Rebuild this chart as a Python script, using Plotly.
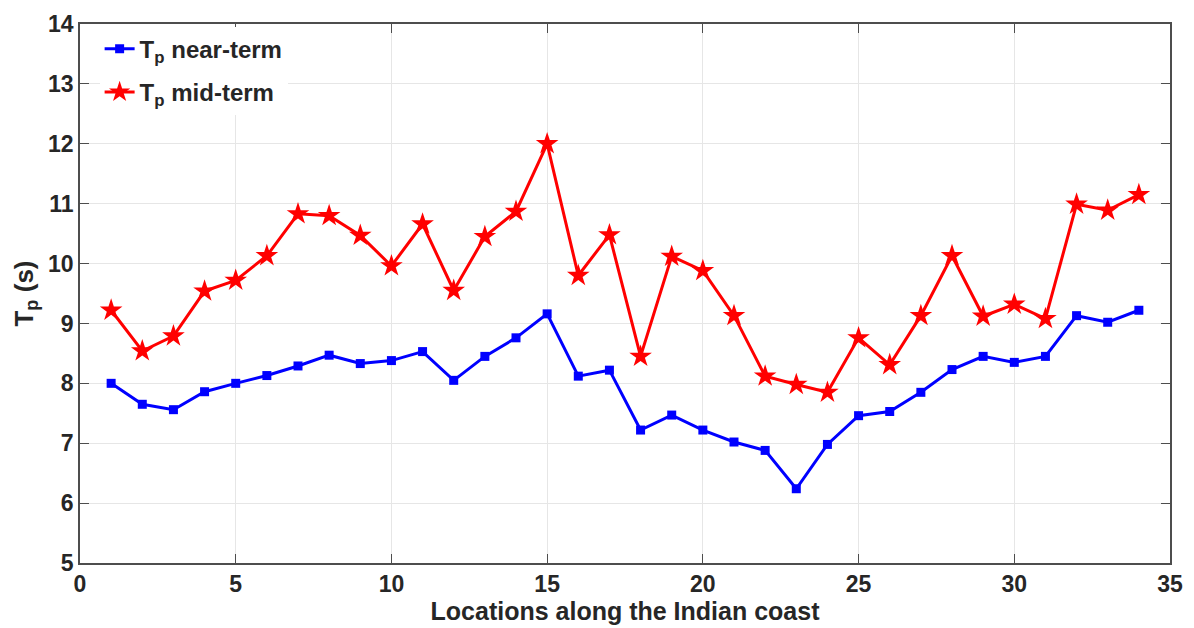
import plotly.graph_objects as go

locations = list(range(1, 35))
tp_near = [8.00, 7.65, 7.56, 7.86, 8.00, 8.13, 8.29, 8.47, 8.33, 8.38,
           8.53, 8.05, 8.45, 8.76, 9.16, 8.12, 8.22, 7.22, 7.47, 7.22,
           7.02, 6.88, 6.24, 6.98, 7.46, 7.53, 7.85, 8.23, 8.45, 8.35,
           8.45, 9.13, 9.02, 9.22]
tp_mid = [9.22, 8.54, 8.79, 9.54, 9.72, 10.13, 10.83, 10.80, 10.47, 9.96,
          10.66, 9.55, 10.45, 10.87, 12.00, 9.80, 10.48, 8.45, 10.12, 9.88,
          9.13, 8.12, 7.98, 7.85, 8.76, 8.31, 9.13, 10.13, 9.12, 9.32,
          9.08, 10.99, 10.89, 11.15]
x_ticks = [0, 5, 10, 15, 20, 25, 30, 35]
y_ticks = [5, 6, 7, 8, 9, 10, 11, 12, 13, 14]

font_family = "Liberation Sans, Arial, sans-serif"
axis_color = "#4d4d4d"
text_color = "#262626"

fig = go.Figure()
fig.add_trace(go.Scatter(
    x=locations, y=tp_near, mode="lines+markers",
    name="<b>T<sub>p</sub> near-term</b>", legendgroup="near",
    line=dict(color="#0000ff", width=3),
    marker=dict(symbol="square", size=9, color="#0000ff"),
))
fig.add_trace(go.Scatter(
    x=locations, y=tp_mid, mode="lines+markers",
    name="<b>T<sub>p</sub> mid-term</b>", legendgroup="mid",
    line=dict(color="#ff0000", width=3),
    marker=dict(symbol="star", size=17, color="#ff0000"),
))

axis_common = dict(
    showline=True, linecolor=axis_color, linewidth=1.5, mirror="ticks",
    ticks="inside", ticklen=9, tickwidth=1.2, tickcolor=axis_color,
    showgrid=True, gridcolor="#e6e6e6", gridwidth=1, zeroline=False,
    tickfont=dict(family=font_family, size=23, color=text_color, weight="bold"),
)

fig.update_layout(
    width=1194, height=628,
    margin=dict(l=80, r=11, t=17, b=65),
    paper_bgcolor="white", plot_bgcolor="white",
    font=dict(family=font_family, color=text_color),
    xaxis=dict(range=[0, 35], tickvals=x_ticks,
               title=dict(text="<b>Locations along the Indian coast</b>",
                          font=dict(family=font_family, size=25, color=text_color),
                          standoff=2),
               **axis_common),
    yaxis=dict(range=[5, 14], tickvals=y_ticks,
               title=dict(text="<b>T<sub>p</sub> (s)</b>",
                          font=dict(family=font_family, size=26, color=text_color),
                          standoff=7),
               **axis_common),
    legend=dict(x=0.018, y=0.995, xanchor="left", yanchor="top",
                bgcolor="white", borderwidth=0,
                font=dict(family=font_family, size=24, color=text_color),
                itemwidth=30, tracegroupgap=9),
    showlegend=True,
)

fig.write_html("out.html")
